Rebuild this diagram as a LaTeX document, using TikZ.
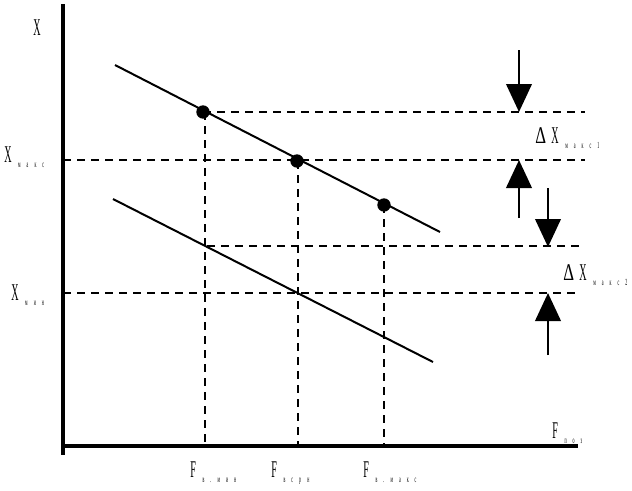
\documentclass[tikz,border=0pt]{standalone}
\usepackage{fontspec}
\newfontfamily\nf[FakeStretch=0.42]{Liberation Serif}
\newfontfamily\nfd[FakeStretch=0.7]{Liberation Serif}
\newfontfamily\nfs[FakeStretch=0.42,LetterSpace=65]{Liberation Serif}
\usetikzlibrary{arrows.meta}
\newcommand{\lab}[2]{{\fontsize{18}{18}\selectfont\nf #1}\hspace{5pt}\raisebox{-4pt}{\fontsize{7}{7}\selectfont\nfs #2}}
\begin{document}
\begin{tikzpicture}[x=0.75pt,y=-0.75pt,
  axis/.style={line width=2.3pt},
  curve/.style={line width=1.5pt},
  dsh/.style={line width=1.3pt,dash pattern=on 6pt off 4.5pt},
  arr/.style={line width=2.2pt,-{Triangle[width=19pt,length=21pt]}},
  dot/.style={circle,fill=black,inner sep=0pt,minimum size=10pt},
  txt/.style={anchor=base west,inner sep=0pt}]
\useasboundingbox (0,0) rectangle (632,490);
% axes
\coordinate (ytop) at (63,4);
\coordinate (ybot) at (63,455);
\coordinate (xl) at (62,446);
\coordinate (xr) at (578,446);
\draw[axis] (ytop) -- (ybot);
\draw[axis] (xl) -- (xr);
% lines
\coordinate (u1) at (115,65);
\coordinate (u2) at (440,232);
\coordinate (l1) at (113,199);
\coordinate (l2) at (433,362);
\draw[curve] (u1) -- (u2);
\draw[curve] (l1) -- (l2);
% dots
\node[dot] (d1) at (203,112) {};
\node[dot] (d2) at (297,161) {};
\node[dot] (d3) at (384,205) {};
% dashed horizontals
\coordinate (h1e) at (585,112);
\coordinate (h2s) at (63,160);
\coordinate (h2e) at (585,160);
\coordinate (h3s) at (207,246);
\coordinate (h3e) at (580,246);
\coordinate (h4s) at (63,293);
\coordinate (h4e) at (580,293);
\draw[dsh] (d1.center) -- (h1e);
\draw[dsh] (h2s) -- (h2e);
\draw[dsh] (h3s) -- (h3e);
\draw[dsh] (h4s) -- (h4e);
% dashed verticals
\coordinate (v1) at (205,446);
\coordinate (v2) at (298,446);
\coordinate (v3) at (384,446);
\draw[dsh] (d1.center) ++(2,0) -- (v1);
\draw[dsh] (d2.center) ++(1,0) -- (v2);
\draw[dsh] (d3.center) -- (v3);
% arrows
\coordinate (a1s) at (519,50);  \coordinate (a1e) at (519,112);
\coordinate (a2s) at (519,218); \coordinate (a2e) at (519,160);
\coordinate (a3s) at (548,188); \coordinate (a3e) at (548,247);
\coordinate (a4s) at (548,355); \coordinate (a4e) at (548,293);
\draw[arr] (a1s) -- (a1e);
\draw[arr] (a2s) -- (a2e);
\draw[arr] (a3s) -- (a3e);
\draw[arr] (a4s) -- (a4e);
% labels
\node[txt] (tX) at (33,35) {\fontsize{18}{18}\selectfont\nf X};
\node[txt] (tXmax) at (4,162) {\lab{X}{макс}};
\node[txt] (tXmin) at (11,300) {\lab{X}{мин}};
\node[txt] (tdX1) at (535,143) {\lab{{\nfd Δ}\hspace{4pt}X}{макс1}};
\node[txt] (tdX2) at (563,280) {\lab{{\nfd Δ}\hspace{4pt}X}{макс2}};
\node[txt] (tFpoz) at (552,438) {\lab{F}{поз}};
\node[txt] (tF1) at (190,477) {\lab{F}{в.мин}};
\node[txt] (tF2) at (271,477) {\lab{F}{всрн}};
\node[txt] (tF3) at (363,477) {\lab{F}{в.макс}};
\end{tikzpicture}
\end{document}
